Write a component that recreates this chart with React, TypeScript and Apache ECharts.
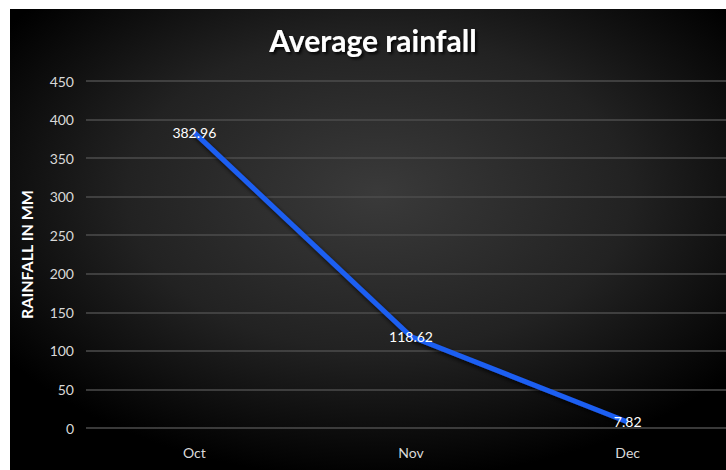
import React, { useEffect, useRef } from "react";
import * as echarts from "echarts";

const categories = ["Oct", "Nov", "Dec"];
const rainfall = [382.96, 118.62, 7.82];
const yTicks = { min: 0, max: 450, interval: 50 };
const titleText = "Average rainfall";
const yAxisName = "RAINFALL IN MM";

export default function App() {
  const ref = useRef<HTMLDivElement>(null);
  useEffect(() => {
    document.body.style.margin = "0";
    document.body.style.overflow = "hidden";
    if (!ref.current) return;
    const chart = echarts.init(ref.current, undefined, { renderer: "svg" });
    const font = "Lato, 'Open Sans', sans-serif";
    chart.setOption({
      animation: false,
      backgroundColor: {
        type: "radial",
        x: 0.5,
        y: 0.4,
        r: 0.62,
        colorStops: [
          { offset: 0, color: "#3a3a3a" },
          { offset: 0.55, color: "#222222" },
          { offset: 1, color: "#000000" },
        ],
      },
      title: {
        text: titleText,
        left: 358,
        textAlign: "center",
        top: 11,
        textStyle: {
          color: "#ffffff",
          fontSize: 30,
          fontWeight: "bold",
          fontFamily: font,
          textShadowColor: "rgba(0,0,0,0.9)",
          textShadowBlur: 3,
          textShadowOffsetX: 2,
          textShadowOffsetY: 2,
        },
      },
      grid: { left: 72, top: 72, height: 347, width: 654 },
      xAxis: {
        type: "category",
        data: categories,
        boundaryGap: true,
        axisLine: { show: false },
        axisTick: { show: false },
        axisLabel: { color: "#d9d9d9", fontSize: 14, fontFamily: font, margin: 17 },
      },
      yAxis: {
        type: "value",
        min: yTicks.min,
        max: yTicks.max,
        interval: yTicks.interval,
        name: yAxisName,
        nameLocation: "middle",
        nameGap: 52,
        nameTextStyle: { color: "#ffffff", fontSize: 16, fontWeight: "bold", fontFamily: font },
        axisLine: { show: false },
        axisTick: { show: false },
        axisLabel: { color: "#d9d9d9", fontSize: 14, fontFamily: font, margin: 12 },
        splitLine: { lineStyle: { color: "#4d4d4d", width: 1.5 } },
      },
      series: [
        {
          type: "line",
          data: rainfall,
          symbol: "circle",
          showSymbol: true,
          symbolSize: 2,
          itemStyle: { color: "rgba(0,0,0,0)" },
          lineStyle: {
            color: "#1f5ff2",
            width: 5,
            shadowColor: "rgba(0,0,0,0.8)",
            shadowBlur: 4,
            shadowOffsetX: 2,
            shadowOffsetY: 3,
          },
          label: {
            show: true,
            position: "inside",
            color: "#ffffff",
            fontSize: 14,
            fontFamily: font,
            formatter: (p: any) => p.value.toFixed(2),
          },
        },
      ],
    });
    return () => chart.dispose();
  }, []);
  return (
    <div style={{ paddingLeft: 10, paddingTop: 9 }}>
      <div style={{ width: 716, height: 461, overflow: "hidden" }}>
        <div ref={ref} style={{ width: 736, height: 461 }} />
      </div>
    </div>
  );
}
